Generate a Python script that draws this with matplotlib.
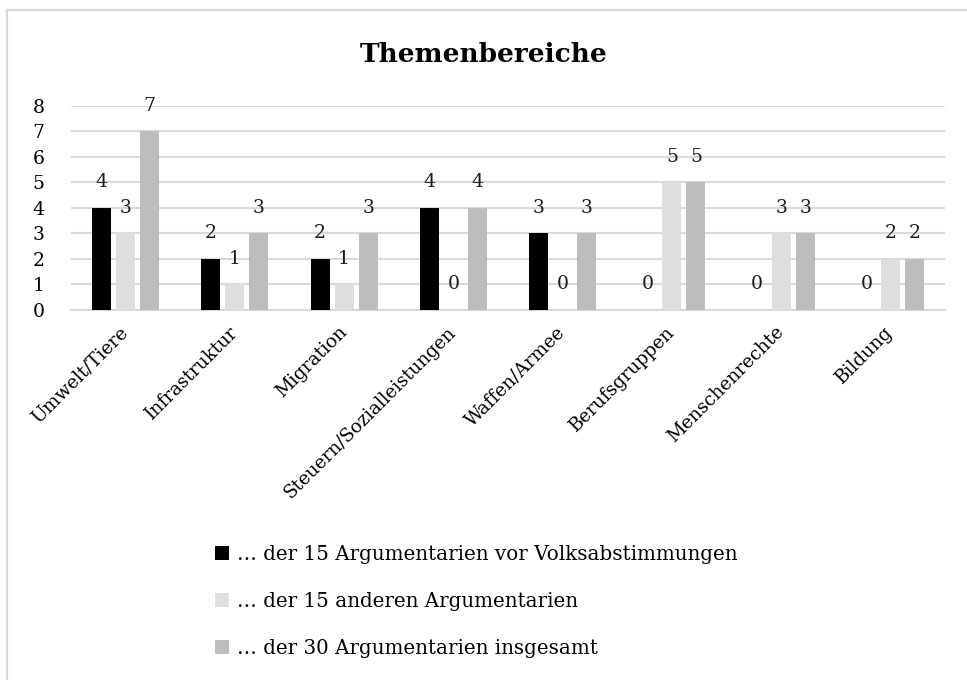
import matplotlib
matplotlib.use("Agg")
import matplotlib.pyplot as plt
from matplotlib.patches import Patch
from matplotlib.lines import Line2D
import numpy as np

categories = ["Umwelt/Tiere", "Infrastruktur", "Migration", "Steuern/Sozialleistungen",
              "Waffen/Armee", "Berufsgruppen", "Menschenrechte", "Bildung"]
series_names = ["… der 15 Argumentarien vor Volksabstimmungen",
                "… der 15 anderen Argumentarien",
                "… der 30 Argumentarien insgesamt"]
vals_volk = [4, 2, 2, 4, 3, 0, 0, 0]
vals_andere = [3, 1, 1, 0, 0, 5, 3, 2]
vals_total = [7, 3, 3, 4, 3, 5, 3, 2]
yticks = [0, 1, 2, 3, 4, 5, 6, 7, 8]
title = "Themenbereiche"

colors = ["#000000", "#dedede", "#bdbdbd"]
plt.rcParams['font.family'] = ["DejaVu Serif"]

W, H = 967, 680
fig = plt.figure(figsize=(W / 100, H / 100), dpi=100)
# outer frame (only top and left edges visible in the reference)
fig.add_artist(Line2D([6.5 / W, 1.0], [1 - 9.5 / H, 1 - 9.5 / H], transform=fig.transFigure,
                      color="#d9d9d9", linewidth=1.6))
fig.add_artist(Line2D([6.5 / W, 6.5 / W], [0.0, 1 - 9.5 / H], transform=fig.transFigure,
                      color="#d9d9d9", linewidth=1.6))

ax = fig.add_axes([71 / W, 1 - 310 / H, (945 - 71) / W, (310 - 106) / H])

x = np.arange(len(categories))
w = 0.175
offs = [-0.22, 0.0, 0.22]
for s, (vals, off) in enumerate(zip([vals_volk, vals_andere, vals_total], offs)):
    ax.bar(x + off, vals, width=w, color=colors[s], zorder=3, label=series_names[s])
    for xi, v in zip(x + off, vals):
        ax.annotate(str(v), (xi, v), xytext=(0, 12), textcoords="offset points",
                    ha="center", va="bottom", fontsize=13.5, color="#1a1a1a", zorder=4)

ax.set_xlim(-0.5, len(categories) - 0.5)
ax.set_ylim(0, 8)
ax.set_yticks(yticks)
ax.set_yticklabels([str(t) for t in yticks], fontsize=13.5)
ax.yaxis.grid(True, color="#d9d9d9", linewidth=1.5, zorder=0)
ax.set_axisbelow(True)
for sp in ["top", "right", "left"]:
    ax.spines[sp].set_visible(False)
ax.spines["bottom"].set_color("#d9d9d9")
ax.spines["bottom"].set_linewidth(1.5)
ax.tick_params(axis="both", length=0)
ax.tick_params(axis="y", pad=19)
ax.set_xticks(x)
ax.set_xticklabels(categories, rotation=45, ha="right", va="center",
                   rotation_mode="anchor", fontsize=13.3)
ax.tick_params(axis="x", pad=14)

fig.text(0.5, 1 - 62.3 / H, title, ha="center", va="baseline", fontsize=19, fontweight="bold")

handles = [Patch(facecolor=c, edgecolor="none") for c in colors]
leg = fig.legend(handles, series_names, loc="lower left", bbox_to_anchor=(215 / W, 22 / H),
                 frameon=False, fontsize=14.3, handlelength=0.7, handleheight=0.7,
                 handletextpad=0.4, labelspacing=1.4, borderaxespad=0, borderpad=0)

fig.savefig("out.png", dpi=100)
